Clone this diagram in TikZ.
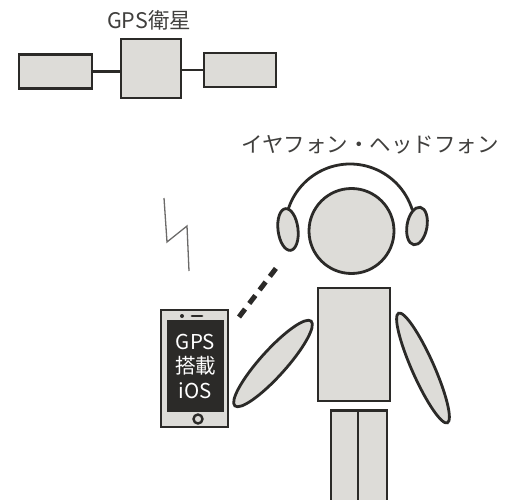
\documentclass[tikz,border=0pt]{standalone}
\usepackage{fontspec}
\setmainfont{Noto Sans CJK JP}
\usetikzlibrary{shapes.geometric}
\definecolor{pale}{HTML}{DDDCD8}
\definecolor{ink}{HTML}{2B2A28}
\begin{document}
\begin{tikzpicture}[x=1pt,y=1pt,
    part/.style={draw=ink,fill=pale,line width=2.8pt,inner sep=0pt},
    cup/.style={part,ellipse,minimum width=20pt},
    label/.style={font=\fontsize{21.5}{21.5}\selectfont,text=ink!90!white}]
    \useasboundingbox (0,0) rectangle (506,499);
    %% Satellite
    \node[label] (satlabel) at (149,479) {GPS衛星};
    \node[part,minimum width=73pt,minimum height=34pt] (panelL) at (55.5,427.5) {};
    \node[part,minimum width=60pt,minimum height=59pt] (core) at (151,430.5) {};
    \node[part,minimum width=72pt,minimum height=34pt] (panelR) at (240,429) {};
    \draw[ink,line width=2.8pt] (panelL.east) -- (core.west |- panelL.east);
    \draw[ink,line width=2.8pt] (core.east |- panelR.west) -- (panelR.west);
    %% Signal
    \draw[ink!70!white,line width=1.3pt] (164,301) -- (167,257) -- (187,273) -- (189,228);
    %% Person with headphones
    \node[label] (hplabel) at (370,354) {イヤフォン・ヘッドフォン};
    \draw[ink,line width=2.8pt] (288,289) arc[start angle=163,end angle=17,radius=65];
    \node[part,circle,minimum size=85pt] (head) at (351.5,268) {};
    \node[cup,minimum height=42pt,rotate=7] (cupL) at (288,269.5) {};
    \node[cup,minimum height=38pt,rotate=-10] (cupR) at (417,273) {};
    \node[part,minimum width=72pt,minimum height=113pt] (body) at (354,154.5) {};
    \node[part,minimum width=27pt,minimum height=110pt,anchor=north] (legL) at (344.5,90) {};
    \node[part,minimum width=29pt,minimum height=110pt,anchor=north] (legR) at (372.5,90) {};
    \node[part,ellipse,minimum width=114pt,minimum height=26pt,rotate=48] (armL) at (273,135.5) {};
    \node[part,ellipse,minimum width=120pt,minimum height=22pt,rotate=-66] (armR) at (423,131) {};
    %% Phone
    \node[part,minimum width=67pt,minimum height=117pt,line width=2.4pt] (phone) at (194.5,130.5) {};
    \node[fill=ink,minimum width=57pt,minimum height=92pt,inner sep=0pt] (screen) at (195.5,133) {};
    \node[align=center,text=white,font=\fontsize{20.5}{24.5}\selectfont] (ostext) at (screen) {GPS\\搭載\\iOS};
    \draw[ink,line width=2.4pt] (198,80) circle (4.5);
    \fill[ink] (182,183) circle (2);
    \draw[ink,line width=2.8pt,line cap=round] (192,183) -- (202,183);
    %% Bluetooth link
    \coordinate (linkA) at (239,182);
    \coordinate (linkB) at (277,232);
    \draw[ink,line width=5pt,dash pattern=on 10pt off 7pt] (linkA) -- (linkB);
\end{tikzpicture}
\end{document}
